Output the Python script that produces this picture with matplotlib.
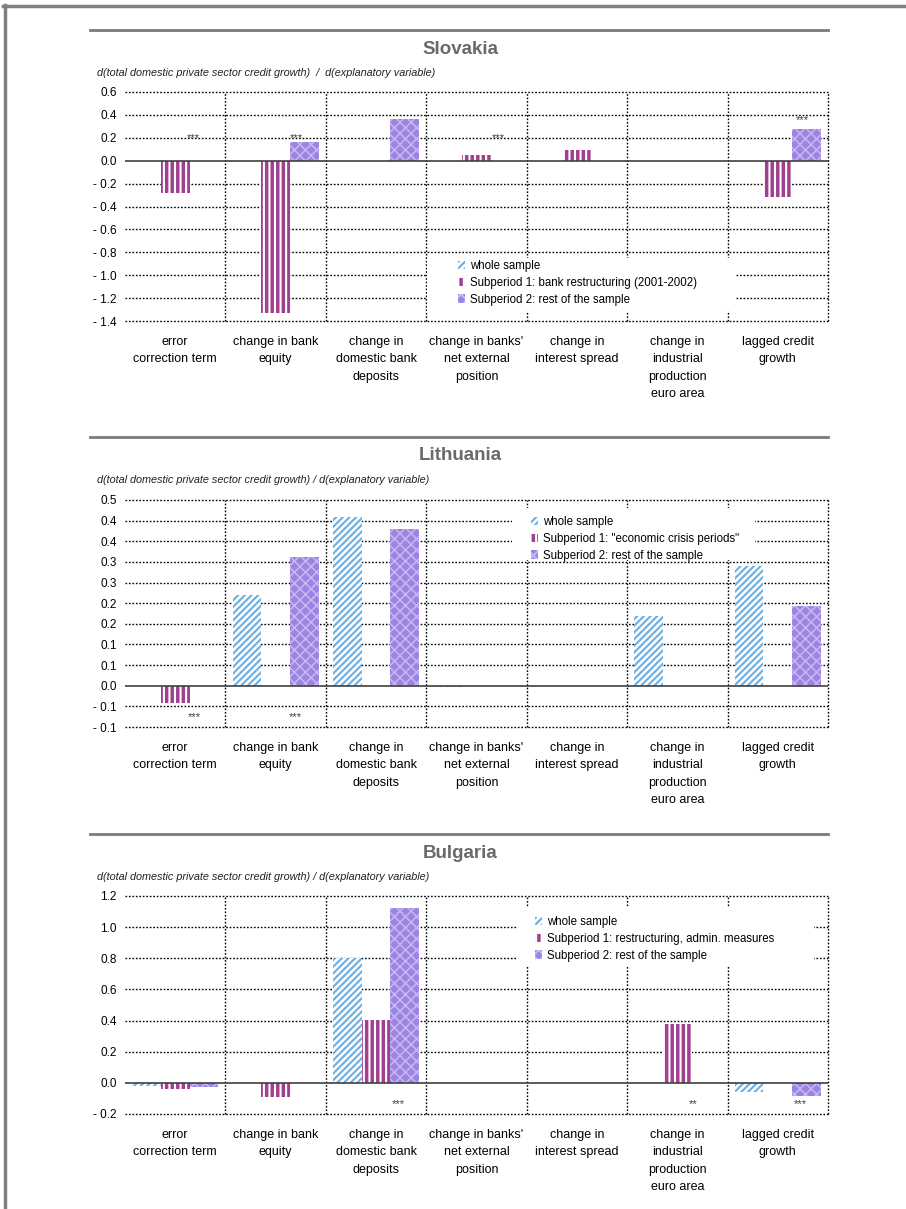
import numpy as np
import matplotlib
matplotlib.use("Agg")
import matplotlib.pyplot as plt
from matplotlib import font_manager as fm
from matplotlib.lines import Line2D
from matplotlib.patches import Patch, Rectangle

# ---------------- data ----------------
categories = ["error\ncorrection term", "change in bank\nequity",
              "change in\ndomestic bank\ndeposits", "change in banks'\nnet external\nposition",
              "change in\ninterest spread", "change in\nindustrial\nproduction\neuro area",
              "lagged credit\ngrowth"]

sk_whole = [0, 0, 0, 0, 0, 0, 0]
sk_sub1 = [-0.28, -1.33, 0, 0.05, 0.09, 0, -0.32]
sk_sub2 = [0, 0.16, 0.36, 0, 0, 0, 0.28]
sk_stars = ["***", "***", "***", "***"]
sk_star_x = [0.18, 1.21, 3.22, 6.24]
sk_star_y = [0.2, 0.2, 0.2, 0.355]
sk_ticks = [-1.4, -1.2, -1.0, -0.8, -0.6, -0.4, -0.2, 0.0, 0.2, 0.4, 0.6]

lt_whole = [0, 0.22, 0.41, -0.003, 0, 0.168, 0.29]
lt_sub1 = [-0.042, 0, 0, 0, 0, 0, 0]
lt_sub2 = [0, 0.313, 0.38, 0, 0, 0, 0.193]
lt_stars = ["***", "***"]
lt_star_x = [0.19, 1.20]
lt_star_y = [-0.075, -0.075]
lt_ticks = [-0.10, -0.05, 0.0, 0.05, 0.10, 0.15, 0.20, 0.25, 0.30, 0.35, 0.40, 0.45]

bg_whole = [-0.017, 0, 0.80, 0, 0, 0, -0.056]
bg_sub1 = [-0.037, -0.088, 0.405, 0, 0, 0.38, 0]
bg_sub2 = [-0.024, 0, 1.12, 0, 0, 0, -0.085]
bg_stars = ["***", "**", "***"]
bg_star_x = [2.22, 5.16, 6.22]
bg_star_y = [-0.135, -0.135, -0.135]
bg_ticks = [-0.2, 0.0, 0.2, 0.4, 0.6, 0.8, 1.0, 1.2]

legend_sk = ["whole sample", "Subperiod 1: bank restructuring (2001-2002)", "Subperiod 2: rest of the sample"]
legend_lt = ["whole sample", "Subperiod 1: \"economic crisis periods\"", "Subperiod 2: rest of the sample"]
legend_bg = ["whole sample", "Subperiod 1: restructuring, admin. measures", "Subperiod 2: rest of the sample"]

ylabel_sk = "d(total domestic private sector credit growth)  /  d(explanatory variable)"
ylabel_other = "d(total domestic private sector credit growth) / d(explanatory variable)"

# ---------------- fonts ----------------
names = {f.name for f in fm.fontManager.ttflist}
NARROW = "Liberation Sans Narrow" if "Liberation Sans Narrow" in names else "Liberation Sans"
REG = "Liberation Sans"
plt.rcParams["font.family"] = [NARROW, "DejaVu Sans"]
plt.rcParams["hatch.linewidth"] = 1.5

BLUE = "#69aee3"
PURP = "#a0408f"
LAV = "#9d84e2"
LAV_LIGHT = "#c6b8f2"
GRID = "#000000"

SPECS = [("/////", "white", BLUE, 1.5), ("|||", PURP, "white", 1.5), ("xxx", LAV, LAV_LIGHT, 1.1)]

W, H = 906, 1209
fig = plt.figure(figsize=(W / 100, H / 100), dpi=100)


def fx(px):
    return px / W


def fy(py):
    return 1 - py / H


def fmt(v):
    a = np.floor(abs(v) * 10 + 0.5 + 1e-9) / 10
    if a == 0:
        return "0.0"
    return ("- " if v < 0 else "") + f"{a:.1f}"


def style_patch(p, spec):
    hatch, face, edge, hlw = spec
    p.set_hatch(hatch)
    p.set_facecolor(face)
    p.set_edgecolor(edge)
    p.set_linewidth(0)
    if hasattr(p, "set_hatch_linewidth"):
        try:
            p.set_hatch_linewidth(hlw)
        except Exception:
            pass


def legend_handles():
    hs = []
    for spec in SPECS:
        p = Patch()
        style_patch(p, spec)
        hs.append(p)
    return hs


def panel(top_px, bot_px, sep_px, title, ylabel, whole, sub1, sub2, ticks, ylim,
          stars, sx, sy, legend_labels, leg_handle_px, leg_box_px):
    fig.add_artist(Line2D([fx(90), fx(828)], [fy(sep_px), fy(sep_px)], color="#7a7a7a", lw=2))
    fig.text(fx(460), fy(sep_px + 19), title, ha="center", va="center", fontsize=13.5,
             fontweight="bold", color="#6a6a6a", family=[REG, "DejaVu Sans"])
    fig.text(fx(97), fy(sep_px + 43), ylabel, ha="left", va="center", fontsize=7.8,
             style="italic", color="#222222")
    L, R = 125, 828
    ax = fig.add_axes([fx(L), fy(bot_px), fx(R) - fx(L), fy(top_px) - fy(bot_px)])
    x = np.arange(len(categories))
    w = 1 / 3.5
    for off, vals, spec in zip((-w, 0, w), (whole, sub1, sub2), SPECS):
        bars = ax.bar(x + off, vals, w, zorder=3)
        for b in bars:
            style_patch(b, spec)
    ax.set_xlim(-0.5, len(categories) - 0.5)
    ax.set_ylim(*ylim)
    for t in ticks:
        if abs(t) < 1e-12:
            ax.axhline(0, color="#404040", lw=1.2, zorder=4)
        else:
            ax.axhline(t, color=GRID, lw=1.0, ls=(0, (1.2, 1.3)), zorder=1, clip_on=False)
    for k in range(len(categories)):
        ax.axvline(k + 0.5, color=GRID, lw=1.0, ls=(0, (1.2, 1.3)), zorder=1, clip_on=False)
    ax.set_yticks(ticks)
    ax.set_yticklabels([fmt(t) for t in ticks])
    ax.set_xticks(x)
    ax.set_xticklabels(categories, linespacing=1.58)
    ax.tick_params(axis="y", length=0, pad=6, labelsize=8.5)
    ax.tick_params(axis="x", length=0, pad=11, labelsize=9)
    for s in ax.spines.values():
        s.set_visible(False)
    for s_txt, xx, yy in zip(stars, sx, sy):
        ax.text(xx, yy, s_txt, ha="center", va="center", fontsize=8, color="#404040", zorder=5)
    bx0, by0, bx1, by1 = leg_box_px
    hgt = bot_px - top_px
    ax.add_patch(Rectangle(((bx0 - L) / (R - L), (bot_px - by1) / hgt),
                           (bx1 - bx0) / (R - L), (by1 - by0) / hgt,
                           transform=ax.transAxes, facecolor="white", edgecolor="none",
                           zorder=5, clip_on=False))
    hx, hy = leg_handle_px
    leg = ax.legend(legend_handles(), legend_labels, loc="upper left",
                    bbox_to_anchor=((hx - L) / (R - L), (bot_px - hy) / hgt),
                    fontsize=8.3, frameon=False, handlelength=0.65, handleheight=0.75,
                    handletextpad=0.35, labelspacing=0.42, borderpad=0, borderaxespad=0)
    leg.set_zorder(6)
    return ax


panel(92, 321, 30, "Slovakia", ylabel_sk, sk_whole, sk_sub1, sk_sub2, sk_ticks, (-1.4, 0.6),
      sk_stars, sk_star_x, sk_star_y, legend_sk, (458, 260), (427, 258, 735, 311))
panel(500, 727, 437, "Lithuania", ylabel_other, lt_whole, lt_sub1, lt_sub2, lt_ticks, (-0.10, 0.45),
      lt_stars, lt_star_x, lt_star_y, legend_lt, (531, 516), (512, 508, 755, 560))
panel(896, 1114, 834, "Bulgaria", ylabel_other, bg_whole, bg_sub1, bg_sub2, bg_ticks, (-0.2, 1.2),
      bg_stars, bg_star_x, bg_star_y, legend_bg, (535, 916), (517, 908, 814, 966))

fig.add_artist(Line2D([fx(3), 1], [fy(6), fy(6)], color="#808080", lw=2.5))
fig.add_artist(Line2D([fx(4.5), fx(4.5)], [fy(5), 0], color="#808080", lw=2.5))

fig.savefig("out.png", dpi=100)
